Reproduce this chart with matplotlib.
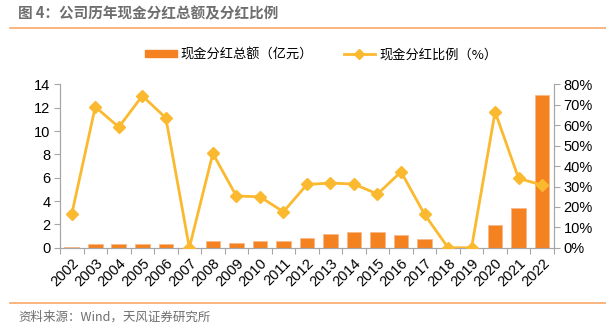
import matplotlib
matplotlib.use("Agg")
import matplotlib.pyplot as plt
from matplotlib.lines import Line2D
from matplotlib.patches import Patch
from matplotlib.ticker import FixedLocator, FuncFormatter

plt.rcParams['font.family'] = ['Noto Sans CJK SC', 'DejaVu Sans']

years = [str(y) for y in range(2002, 2023)]
dividend_total = [0.05, 0.3, 0.3, 0.3, 0.3, 0.0, 0.62, 0.4, 0.54, 0.6, 0.8,
                  1.15, 1.35, 1.35, 1.1, 0.75, 0.0, 0.0, 1.92, 3.43, 13.08]
payout_ratio = [16.5, 69.0, 59.1, 74.4, 63.6, 0.0, 46.2, 25.3, 25.0, 17.6, 31.0,
                31.7, 31.2, 26.3, 37.2, 16.4, 0.0, 0.0, 66.6, 34.0, 30.7]

bar_color = '#F58220'
line_color = '#FBB92F'
axis_gray = '#A6A6A6'

fig = plt.figure(figsize=(6.06, 3.26), dpi=100)
ax = fig.add_axes([0.099, 0.240, 0.815, 0.501])
ax2 = ax.twinx()

x = list(range(len(years)))
ax.bar(x, dividend_total, width=0.62, color=bar_color, edgecolor='#F9B98A',
       linewidth=0.6, zorder=2)
ax2.plot(x, [v / 100 for v in payout_ratio], color=line_color, linewidth=2,
         marker='D', markersize=6, zorder=3)

ax.set_xlim(-0.5, len(years) - 0.5)
ax.set_ylim(0, 14)
ax.set_yticks(range(0, 15, 2))
ax2.set_ylim(0, 0.8)
ax2.set_yticks([i / 10 for i in range(9)])
ax2.yaxis.set_major_formatter(FuncFormatter(lambda v, p: f"{v*100:.0f}%"))

ax.set_xticks(x)
ax.set_xticklabels(years, rotation=45, ha='right', rotation_mode='anchor',
                   fontsize=10.5, family=['Liberation Sans', 'DejaVu Sans'])
ax.tick_params(axis='x', which='major', length=0, pad=6)
ax.xaxis.set_minor_locator(FixedLocator([i - 0.5 for i in range(len(years) + 1)]))
ax.tick_params(axis='x', which='minor', length=4, color=axis_gray, width=0.8)

for a in (ax, ax2):
    for s in a.spines.values():
        s.set_color(axis_gray)
        s.set_linewidth(0.8)
    a.spines['top'].set_visible(False)
    a.tick_params(axis='y', length=4, color=axis_gray, width=0.8, labelsize=10.5, pad=3)
    for lab in a.get_yticklabels():
        lab.set_family(['Liberation Sans', 'DejaVu Sans'])
ax.set_zorder(ax2.get_zorder() - 1)
ax.patch.set_visible(True)
ax2.patch.set_visible(False)

handles = [Patch(facecolor=bar_color, edgecolor=bar_color),
           Line2D([], [], color=line_color, linewidth=2, marker='D', markersize=5)]
labels = ['现金分红总额（亿元）', '现金分红比例（%）']
fig.legend(handles, labels, loc='center', bbox_to_anchor=(0.53, 0.832), ncol=2,
           frameon=False, fontsize=9.5, handlelength=2.4, handleheight=0.5,
           columnspacing=2.3, handletextpad=0.3)

fig.text(0.03, 0.958, '图 4：公司历年现金分红总额及分红比例', fontsize=10.5,
         fontweight='bold', color='#6E6E6E', va='center')
fig.add_artist(Line2D([0.017, 1.0], [0.913, 0.913], color='#F7A86B', linewidth=1.2))
fig.add_artist(Line2D([0.017, 1.0], [0.071, 0.071], color='#F7A86B', linewidth=1.2))
fig.text(0.03, 0.027, '资料来源：Wind，天风证券研究所', fontsize=9,
         color='#6E6E6E', va='center')

fig.savefig('out.png', dpi=100)
